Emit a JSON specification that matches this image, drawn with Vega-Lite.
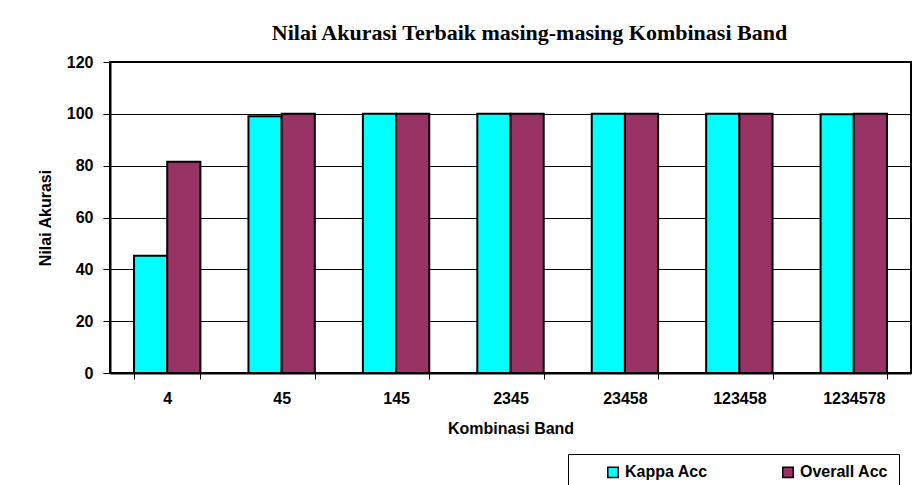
{
  "$schema": "https://vega.github.io/schema/vega-lite/v6.json",
  "autosize": "none",
  "width": 801,
  "height": 311,
  "padding": {"left": 110, "top": 62, "right": 5, "bottom": 112},
  "background": "white",
  "title": {
    "text": "Nilai Akurasi Terbaik masing-masing Kombinasi Band",
    "font": "Liberation Serif",
    "fontSize": 22,
    "fontWeight": "bold",
    "color": "black",
    "anchor": "middle",
    "dx": 19,
    "offset": 9
  },
  "data": {
    "values": [
      {"band": "4", "series": "Kappa Acc", "value": 45.2},
      {"band": "4", "series": "Overall Acc", "value": 81.5},
      {"band": "45", "series": "Kappa Acc", "value": 99.1},
      {"band": "45", "series": "Overall Acc", "value": 100},
      {"band": "145", "series": "Kappa Acc", "value": 100},
      {"band": "145", "series": "Overall Acc", "value": 100},
      {"band": "2345", "series": "Kappa Acc", "value": 100},
      {"band": "2345", "series": "Overall Acc", "value": 100},
      {"band": "23458", "series": "Kappa Acc", "value": 100},
      {"band": "23458", "series": "Overall Acc", "value": 100},
      {"band": "123458", "series": "Kappa Acc", "value": 100},
      {"band": "123458", "series": "Overall Acc", "value": 100},
      {"band": "1234578", "series": "Kappa Acc", "value": 99.8},
      {"band": "1234578", "series": "Overall Acc", "value": 100}
    ]
  },
  "mark": {"type": "bar", "stroke": "black", "strokeWidth": 2},
  "encoding": {
    "x": {
      "field": "band",
      "type": "nominal",
      "sort": null,
      "scale": {"paddingInner": 0.42, "paddingOuter": 0.21},
      "axis": {
        "title": "Kombinasi Band",
        "labelAngle": 0,
        "tickBand": "extent",
        "tickSize": 6,
        "tickColor": "black",
        "tickWidth": 1,
        "domainColor": "black",
        "domainWidth": 2,
        "labelPadding": 11,
        "titlePadding": 14,
        "grid": false
      }
    },
    "xOffset": {"field": "series", "type": "nominal", "scale": {"paddingInner": 0, "paddingOuter": 0}},
    "y": {
      "field": "value",
      "type": "quantitative",
      "scale": {"domain": [0, 120], "nice": false},
      "axis": {
        "title": "Nilai Akurasi",
        "values": [0, 20, 40, 60, 80, 100, 120],
        "tickSize": 7,
        "tickColor": "black",
        "tickWidth": 1,
        "domainColor": "black",
        "domainWidth": 2,
        "labelPadding": 10,
        "titlePadding": 13,
        "grid": true,
        "gridColor": "black",
        "gridWidth": 1,
        "gridOpacity": 1
      }
    },
    "color": {
      "field": "series",
      "type": "nominal",
      "scale": {"domain": ["Kappa Acc", "Overall Acc"], "range": ["#00FFFF", "#993366"]},
      "legend": {
        "title": null,
        "orient": "none",
        "legendX": 458,
        "legendY": 392,
        "direction": "horizontal",
        "columns": 2,
        "columnPadding": 45,
        "padding": 10,
        "symbolOffset": 27,
        "symbolType": "square",
        "symbolSize": 110,
        "symbolStrokeColor": "black",
        "symbolStrokeWidth": 1.5,
        "symbolOpacity": 1,
        "labelOffset": 4,
        "labelFont": "Liberation Sans",
        "labelFontSize": 16,
        "labelFontWeight": "bold",
        "labelColor": "black",
        "strokeColor": "black",
        "fillColor": "white"
      }
    }
  },
  "config": {
    "view": {"stroke": "black", "strokeWidth": 2},
    "axis": {
      "labelFont": "Liberation Sans",
      "labelFontSize": 16,
      "labelFontWeight": "bold",
      "labelColor": "black",
      "titleFont": "Liberation Sans",
      "titleFontSize": 16,
      "titleFontWeight": "bold",
      "titleColor": "black"
    }
  }
}
